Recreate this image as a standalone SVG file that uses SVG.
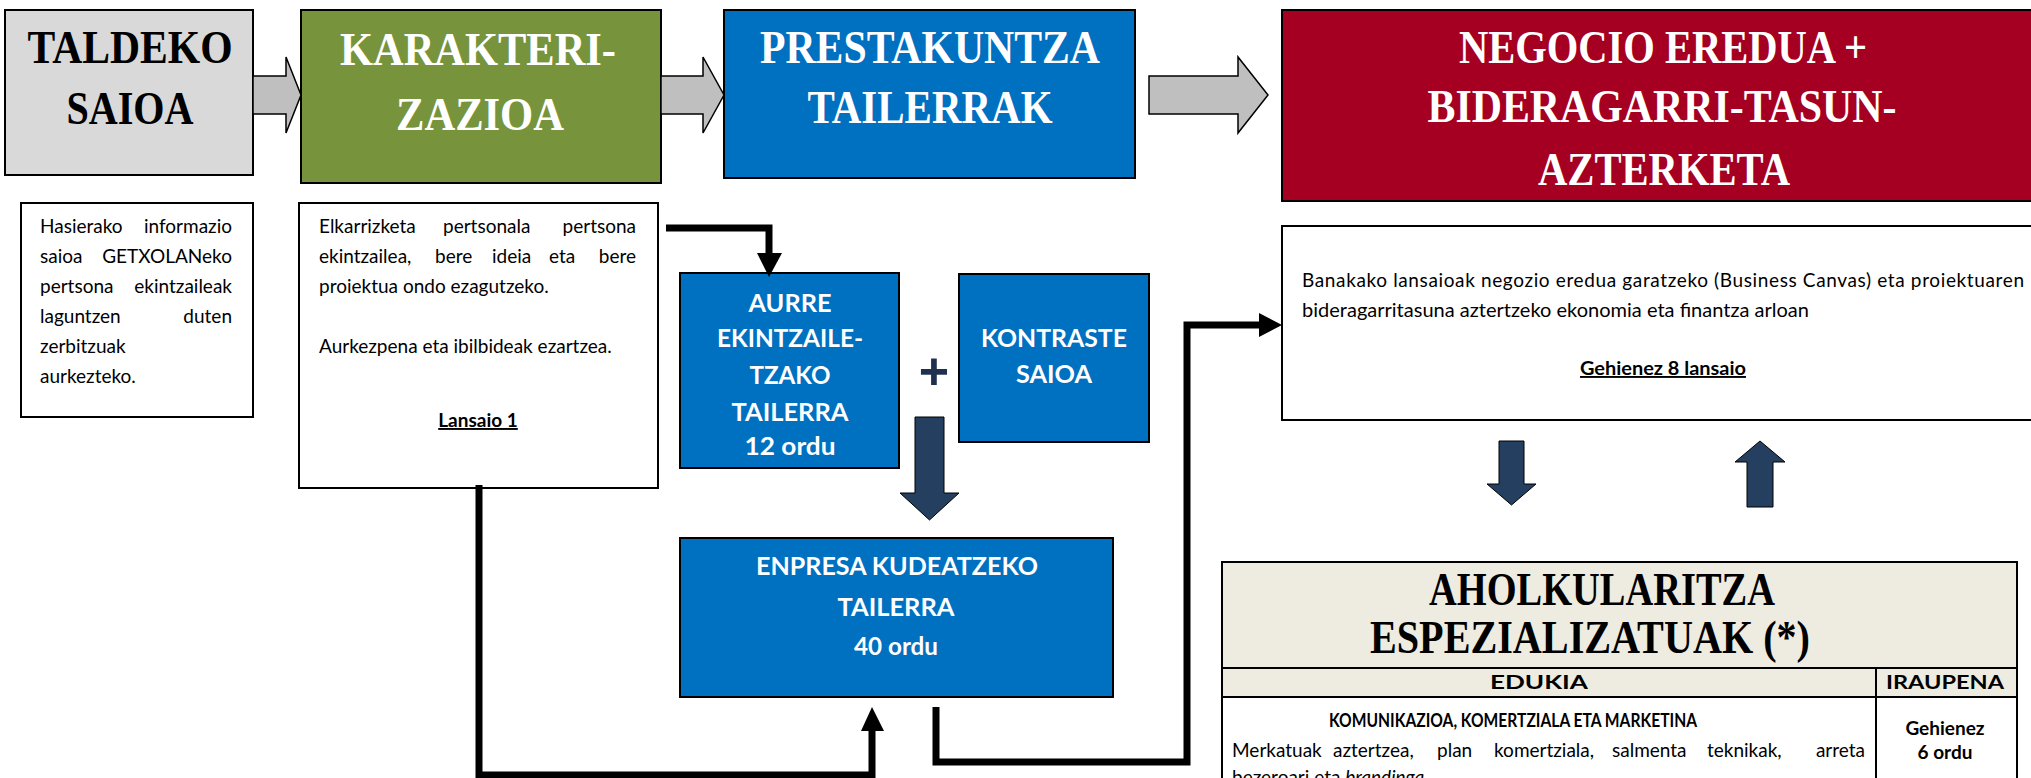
<svg xmlns="http://www.w3.org/2000/svg" width="2031" height="778" viewBox="0 0 2031 778">
<style>
.hd{font-family:"Liberation Serif",serif;font-weight:bold;font-size:47px;text-anchor:middle}
.w{fill:#fff}
.k{fill:#000}
.bt{font-family:Lato,"Liberation Sans",sans-serif;font-size:19px;fill:#000}
.bb{font-family:Lato,"Liberation Sans",sans-serif;font-size:19px;font-weight:bold;fill:#000;text-anchor:middle}
.bw{font-family:Lato,"Liberation Sans",sans-serif;font-weight:bold;font-size:24px;fill:#fff;text-anchor:middle}
.e{text-anchor:end}
.box{stroke:#000;stroke-width:2}
.conn{fill:none;stroke:#000;stroke-width:7}
.head{fill:#000}
.garrow{fill:#BFBFBF;stroke:#000;stroke-width:1.5}
.darrow{fill:#243F60;stroke:#000;stroke-width:1}
</style>

<g id="taldeko">
<rect class="box" x="5" y="10" width="248" height="165" fill="#D9D9D9"/>
<text class="hd k" x="130" y="63" textLength="205" lengthAdjust="spacingAndGlyphs">TALDEKO</text>
<text class="hd k" x="130" y="124" textLength="127" lengthAdjust="spacingAndGlyphs">SAIOA</text>
</g>

<g id="karakterizazioa">
<rect class="box" x="301" y="10" width="360" height="173" fill="#77933C"/>
<text class="hd w" x="478" y="65" textLength="276" lengthAdjust="spacingAndGlyphs">KARAKTERI-</text>
<text class="hd w" x="480" y="130" textLength="168" lengthAdjust="spacingAndGlyphs">ZAZIOA</text>
</g>

<g id="prestakuntza">
<rect class="box" x="724" y="10" width="411" height="168" fill="#0070C0"/>
<text class="hd w" x="930" y="63" textLength="340" lengthAdjust="spacingAndGlyphs">PRESTAKUNTZA</text>
<text class="hd w" x="930" y="123" textLength="245" lengthAdjust="spacingAndGlyphs">TAILERRAK</text>
</g>

<g id="negocio">
<rect class="box" x="1282" y="10" width="770" height="191" fill="#A50021"/>
<text class="hd w" x="1663" y="63" textLength="408" lengthAdjust="spacingAndGlyphs">NEGOCIO EREDUA +</text>
<text class="hd w" x="1662" y="122" textLength="469" lengthAdjust="spacingAndGlyphs">BIDERAGARRI-TASUN-</text>
<text class="hd w" x="1664" y="185" textLength="252" lengthAdjust="spacingAndGlyphs">AZTERKETA</text>
</g>

<g id="hasierako">
<rect class="box" x="21" y="203" width="232" height="214" fill="#fff"/>
<text class="bt" x="40" y="233">Hasierako</text><text class="bt e" x="232" y="233">informazio</text>
<text class="bt" x="40" y="263">saioa</text><text class="bt e" x="232" y="263">GETXOLANeko</text>
<text class="bt" x="40" y="293">pertsona</text><text class="bt e" x="232" y="293">ekintzaileak</text>
<text class="bt" x="40" y="323">laguntzen</text><text class="bt e" x="232" y="323">duten</text>
<text class="bt" x="40" y="353">zerbitzuak</text>
<text class="bt" x="40" y="383">aurkezteko.</text>
</g>

<g id="elkarrizketa">
<rect class="box" x="299" y="203" width="359" height="285" fill="#fff"/>
<text class="bt" x="319" y="233">Elkarrizketa</text><text class="bt" x="443" y="233">pertsonala</text><text class="bt e" x="636" y="233">pertsona</text>
<text class="bt" x="319" y="263">ekintzailea,</text><text class="bt" x="435" y="263">bere</text><text class="bt" x="492" y="263">ideia</text><text class="bt" x="549" y="263">eta</text><text class="bt e" x="636" y="263">bere</text>
<text class="bt" x="319" y="293">proiektua ondo ezagutzeko.</text>
<text class="bt" x="319" y="353">Aurkezpena eta ibilbideak ezartzea.</text>
<text class="bb" x="478" y="427" text-decoration="underline">Lansaio 1</text>
</g>

<g id="aurre">
<rect class="box" x="680" y="273" width="219" height="195" fill="#0070C0"/>
<text class="bw" x="790" y="312" textLength="83" lengthAdjust="spacingAndGlyphs">AURRE</text>
<text class="bw" x="790" y="347" textLength="146" lengthAdjust="spacingAndGlyphs">EKINTZAILE-</text>
<text class="bw" x="790" y="384" textLength="81" lengthAdjust="spacingAndGlyphs">TZAKO</text>
<text class="bw" x="790" y="421" textLength="117" lengthAdjust="spacingAndGlyphs">TAILERRA</text>
<text class="bw" x="790" y="455" textLength="91" lengthAdjust="spacingAndGlyphs">12 ordu</text>
</g>

<g id="plus">
<text x="934" y="389" font-family="Liberation Sans,sans-serif" font-weight="bold" font-size="52" fill="#1F3050" text-anchor="middle">+</text>
</g>

<g id="kontraste">
<rect class="box" x="959" y="274" width="190" height="168" fill="#0070C0"/>
<text class="bw" x="1054" y="347" textLength="146" lengthAdjust="spacingAndGlyphs">KONTRASTE</text>
<text class="bw" x="1054" y="383" textLength="76" lengthAdjust="spacingAndGlyphs">SAIOA</text>
</g>

<g id="enpresa">
<rect class="box" x="680" y="538" width="433" height="159" fill="#0070C0"/>
<text class="bw" x="897" y="575" textLength="282" lengthAdjust="spacingAndGlyphs">ENPRESA KUDEATZEKO</text>
<text class="bw" x="896" y="616" textLength="117" lengthAdjust="spacingAndGlyphs">TAILERRA</text>
<text class="bw" x="896" y="655" textLength="84" lengthAdjust="spacingAndGlyphs">40 ordu</text>
</g>

<g id="banakako">
<rect class="box" x="1282" y="226" width="770" height="194" fill="#fff"/>
<text class="bt" x="1302" y="287" textLength="722" lengthAdjust="spacing">Banakako lansaioak negozio eredua garatzeko (Business Canvas) eta proiektuaren</text>
<text class="bt" x="1302" y="317" textLength="507" lengthAdjust="spacingAndGlyphs">bideragarritasuna aztertzeko ekonomia eta finantza arloan</text>
<text class="bb" x="1663" y="375" text-decoration="underline" textLength="166" lengthAdjust="spacingAndGlyphs">Gehienez 8 lansaio</text>
</g>

<g id="aholkularitza">
<rect class="box" x="1222" y="562" width="795" height="106" fill="#EEECE1"/>
<rect class="box" x="1222" y="668" width="795" height="29" fill="#EEECE1"/>
<rect class="box" x="1222" y="697" width="795" height="100" fill="#fff"/>
<line class="box" x1="1876" y1="668" x2="1876" y2="790"/>
<text class="hd k" x="1602" y="605" font-size="45" textLength="346" lengthAdjust="spacingAndGlyphs">AHOLKULARITZA</text>
<text class="hd k" x="1590" y="653" font-size="45" textLength="440" lengthAdjust="spacingAndGlyphs">ESPEZIALIZATUAK (*)</text>
<text class="bb" x="1539" y="689" font-size="24" textLength="98" lengthAdjust="spacingAndGlyphs">EDUKIA</text>
<text class="bb" x="1945" y="689" font-size="24" textLength="118" lengthAdjust="spacingAndGlyphs">IRAUPENA</text>
<text class="bb" x="1513" y="727" textLength="368" lengthAdjust="spacingAndGlyphs">KOMUNIKAZIOA, KOMERTZIALA ETA MARKETINA</text>
<text class="bt" x="1232" y="757">Merkatuak</text><text class="bt" x="1333" y="757">aztertzea,</text><text class="bt" x="1437" y="757">plan</text><text class="bt" x="1494" y="757">komertziala,</text><text class="bt" x="1612" y="757">salmenta</text><text class="bt" x="1707" y="757">teknikak,</text><text class="bt e" x="1865" y="757">arreta</text>
<text class="bt" x="1232" y="784">bezeroari eta <tspan font-style="italic">brandinga</tspan></text>
<text class="bb" x="1945" y="735" font-size="20">Gehienez</text>
<text class="bb" x="1945" y="759" font-size="20">6 ordu</text>
</g>

<g id="connectors">
<polygon class="garrow" points="253,76 286,76 286,57 301,95 286,133 286,114 253,114"/>
<polygon class="garrow" points="661,76 703,76 703,57 724,95 703,133 703,114 661,114"/>
<polygon class="garrow" points="1149,76 1238,76 1238,57 1268,95 1238,133 1238,114 1149,114"/>
<path class="conn" d="M666,228 H769 V256"/>
<polygon class="head" points="757,253 782,253 769,277"/>
<path class="conn" d="M479,485 V775 H872 V728"/>
<polygon class="head" points="861,731 884,731 872,707"/>
<path class="conn" d="M936,707 V762 H1187 V325 H1262"/>
<polygon class="head" points="1259,313 1259,337 1282,325"/>
<polygon class="darrow" points="915,417 944,417 944,493 959,493 929.5,520 900,493 915,493"/>
<polygon class="darrow" points="1499,441 1524,441 1524,484 1536,484 1511.5,505 1487,484 1499,484"/>
<polygon class="darrow" points="1760,441 1785,462 1773,462 1773,507 1747,507 1747,462 1735,462"/>
</g>
</svg>
